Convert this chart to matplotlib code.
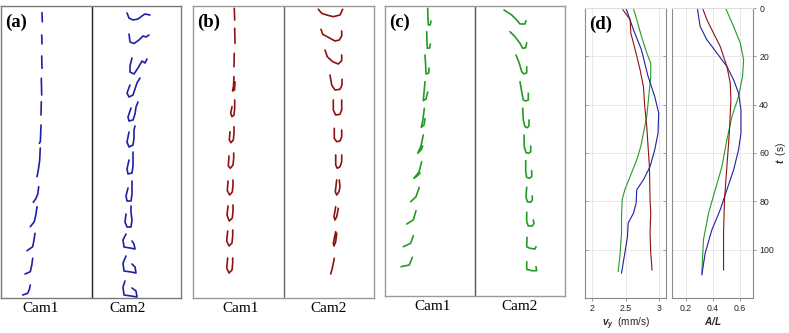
import matplotlib
matplotlib.use("Agg")
import matplotlib.pyplot as plt

# Filament snapshots seen by the two cameras (panel units, y = depth downwards)
# every frame is a list of (x, y) points along the filament

a_cam1 = [
    [(41, 6.7), (41.3, 15.7)],
    [(40.7, 29), (41, 38)],
    [(40.7, 50), (41, 62.3)],
    [(40.3, 72.3), (40.7, 89)],
    [(40.3, 95.7), (40, 109)],
    [(40, 119), (39.6, 130), (39.3, 135.7), (38.3, 137.3)],
    [(39.3, 142), (38.6, 155), (37.3, 164), (36, 170.7)],
    [(37.7, 180.7), (36.8, 188), (35, 192.3), (32.3, 196.3)],
    [(36, 200.7), (35, 208), (33.3, 215.7), (29.3, 220.7)],
    [(34, 227.3), (33, 234), (31.7, 240.7), (26, 244.7)],
    [(31.7, 252.3), (30.8, 259), (29.3, 265.7), (24, 268)],
    [(29.3, 279), (28.5, 283), (26.7, 287.3), (21.7, 289)],
]
a_cam2 = [
    [(126, 7), (128, 12), (132, 14), (137, 13), (141, 10), (144, 8), (149, 9)],
    [(128, 28), (129, 36), (133, 37.5), (138, 34), (142, 30), (145, 31), (148, 29)],
    [(131, 52), (129, 60), (129, 66), (133, 68), (137, 62), (141, 55), (144, 57), (146, 53)],
    [(129, 79), (126, 87), (128, 91), (132, 89), (134, 83), (136, 77), (139, 72)],
    [(130, 102), (127, 111), (128, 115), (132, 114), (134, 108), (135, 101), (137, 96)],
    [(128, 126), (126, 136), (128, 141), (132, 139), (133, 132), (133, 124), (134, 120)],
    [(128, 154), (126, 163), (127, 168), (131, 167), (132, 160), (132, 151), (132, 146)],
    [(127, 182), (125, 190), (126, 195), (130, 195), (131, 188), (131, 180), (131, 175)],
    [(125, 208), (124, 216), (126, 221), (130, 221), (131, 214), (130, 206), (130, 200)],
    [(125, 228), (122, 234), (123, 241), (129, 242), (134, 243), (133, 238), (131, 235)],
    [(125, 250), (122, 257), (123, 265), (130, 266), (135, 267), (134, 261), (131, 258)],
    [(124, 275), (122, 281), (123, 289), (130, 290), (136, 291), (135, 285), (131, 282)],
]

b_cam1 = [
    [(41.3, 2.3), (41.7, 14)],
    [(41.7, 22.3), (42, 37.3)],
    [(41.3, 47.3), (41, 60.7)],
    [(41, 70.7), (40.5, 80), (39.5, 85), (41.5, 84), (42, 76)],
    [(39, 100.7), (37.7, 107.3), (39, 110.7), (41, 109), (41.7, 102), (41.7, 94)],
    [(37, 125.7), (36.3, 134), (38, 136.7), (40.3, 134), (41, 127), (41, 120.7)],
    [(36, 150), (35.3, 160), (37.3, 162.3), (40, 159), (40.7, 152), (40.7, 147)],
    [(35, 175), (34.3, 184.7), (36.7, 189), (39.3, 186), (40, 179), (40, 174)],
    [(35, 200), (34, 209), (36.3, 215), (39.3, 212), (40, 205), (40, 199)],
    [(34.7, 225), (33.7, 235), (36, 240), (39, 237), (39.7, 230), (39.7, 224)],
    [(34.7, 252), (33.7, 262), (36, 267), (39, 264), (39.7, 257), (39.7, 252)],
]
b_cam2 = [
    [(125.3, 3.3), (128.7, 7.3), (133.7, 9), (140.3, 10.7), (147, 9), (149.7, 3.3)],
    [(128, 23.3), (129.7, 28.3), (135.3, 31.3), (142, 35), (146.3, 34), (148.7, 30), (148.7, 25)],
    [(132, 44), (134.3, 50.7), (139.7, 55.7), (145.3, 58), (148.7, 54.7), (148.7, 49)],
    [(137, 69), (138.7, 79), (142, 84), (147, 83.3), (149, 79), (149, 73.3)],
    [(140.3, 94), (140.3, 104), (142.7, 109), (147, 108.3), (148.7, 104), (148.7, 94)],
    [(141.3, 122.3), (141.3, 132.3), (143.7, 135.7), (147, 135), (148.7, 130.7), (148.7, 124)],
    [(142.7, 149), (142.7, 159), (144.3, 162.3), (147, 160.7), (148.7, 155.7), (148.7, 149)],
    [(143.7, 174), (142.3, 185.7), (143.7, 189), (146, 185.7), (147, 180.7), (146.3, 174)],
    [(142.7, 200.7), (141, 210.7), (142, 214), (143.7, 210.7), (145.3, 202.3)],
    [(142.7, 225.7), (140.3, 237.3), (141, 240), (142.7, 235.7), (143.7, 227.3)],
    [(141.3, 252.3), (139.3, 262.3), (137.7, 268)],
]

c_cam1 = [
    [(42.7, 2.3), (43, 12), (43.3, 19), (45.3, 18.7), (46, 15)],
    [(41.7, 25.7), (42, 36), (42.3, 42.3), (44.7, 42), (45.3, 38)],
    [(40, 49), (40.7, 60), (41, 68), (43.7, 67), (44, 62)],
    [(40, 75.7), (39, 87), (38.3, 94.7), (41, 93), (42.7, 86)],
    [(39.3, 102.3), (38, 113), (36.3, 121.3), (39, 119), (40, 112.7)],
    [(38.3, 129), (36, 140), (32.7, 147.3), (36, 144), (37.7, 140)],
    [(36.7, 155.7), (34, 166), (29, 172.3), (33.3, 169), (35, 167)],
    [(34.3, 181.3), (31, 190.7), (25.7, 195.7)],
    [(31, 204.7), (28.3, 214), (21.7, 218)],
    [(28.3, 229.7), (25.7, 237.3), (18.3, 240.7)],
    [(27.3, 251.3), (24.3, 259), (16, 260.7)],
]
c_cam2 = [
    [(119, 4), (126.7, 9), (131.7, 14), (135, 18), (140, 18), (141, 14.7)],
    [(125, 25.7), (130, 30.7), (135, 37.3), (137.7, 42.3), (140.7, 41.7), (141.7, 36.7)],
    [(131, 49), (134.3, 57.3), (136.7, 65.7), (139, 68), (141.7, 66.7), (141.7, 60.7)],
    [(135, 75.7), (136.7, 85.7), (138.3, 94), (140.7, 95), (143.3, 94), (143.3, 87.3)],
    [(137.7, 102.3), (138.3, 114), (140, 120.7), (142.3, 121.7), (144, 120), (144, 114)],
    [(139, 129), (139.3, 140.7), (141, 146.7), (143.7, 147.3), (145.7, 145.7), (145.7, 140)],
    [(140.7, 154.7), (140.7, 165.7), (141.7, 171.3), (144.3, 172.3), (146.7, 170.7), (146.7, 164.7)],
    [(141.7, 181.3), (141, 190.7), (142.3, 195.7), (145.7, 196.3), (147.3, 194), (147.3, 190)],
    [(141.7, 206.3), (141.7, 215.7), (143.3, 220), (147.3, 220), (149, 217.3), (148.3, 214)],
    [(142, 231.3), (141.7, 240.7), (145, 242.3), (150, 243), (151, 240.7)],
    [(141.7, 255.7), (141.7, 263.3), (146.7, 264.7), (151.7, 264.7), (151, 260.7)],
]

# Panel (d): settling velocity and end-to-end ratio vs time
t_vy_blue = [0.3, 9, 17.3, 28.3, 36.6, 43.5, 51.8, 58.7, 65.6, 71.1, 75.2, 80.7, 84.9, 89, 94.6, 101.4, 109.7]
vy_blue = [2.51, 2.62, 2.74, 2.84, 2.94, 3.00, 2.99, 2.94, 2.87, 2.77, 2.67, 2.66, 2.62, 2.54, 2.53, 2.49, 2.44]
t_vy_red = [0.7, 4.8, 10.4, 14.5, 20, 25.6, 32.5, 40.7, 49, 57.3, 65.6, 79.4, 84.9, 93.2, 101.4, 108.4]
vy_red = [2.46, 2.57, 2.58, 2.62, 2.67, 2.72, 2.77, 2.79, 2.82, 2.84, 2.86, 2.87, 2.88, 2.87, 2.88, 2.90]
t_vy_green = [0.4, 4.8, 11.7, 18.6, 22.8, 28.3, 36.6, 44.9, 51.8, 57.3, 62.8, 69.7, 75.2, 79.4, 86.3, 93.2, 101.4, 109]
vy_green = [2.62, 2.67, 2.74, 2.82, 2.88, 2.88, 2.85, 2.82, 2.77, 2.73, 2.67, 2.57, 2.49, 2.45, 2.44, 2.44, 2.42, 2.39]

t_al_blue = [0.3, 7.6, 13.1, 18.6, 24.2, 29.7, 35.2, 42.1, 51.8, 58.7, 67, 75.2, 83.5, 91.8, 101.4, 110.4]
al_blue = [0.285, 0.305, 0.355, 0.43, 0.505, 0.555, 0.592, 0.61, 0.61, 0.592, 0.555, 0.505, 0.455, 0.393, 0.343, 0.318]
t_al_red = [0.3, 4.8, 10.4, 15.9, 24.2, 31, 38, 51.8, 65.6, 79.4, 93.2, 108.4]
al_red = [0.325, 0.355, 0.405, 0.455, 0.505, 0.53, 0.535, 0.523, 0.505, 0.487, 0.48, 0.48]
t_al_green = [0.3, 7.6, 14.5, 21.4, 28.3, 36.6, 44.9, 54.5, 65.6, 75.2, 84.9, 95.9, 109.7]
al_green = [0.497, 0.555, 0.605, 0.63, 0.622, 0.592, 0.543, 0.505, 0.468, 0.418, 0.368, 0.33, 0.318]

blue = "#1f1fa6"
red = "#8e1212"
green = "#249a24"

plt.rcParams["font.serif"] = ["Liberation Serif", "DejaVu Serif"]
plt.rcParams["font.sans-serif"] = ["Liberation Sans", "DejaVu Sans"]
plt.rcParams["mathtext.fontset"] = "custom"
plt.rcParams["mathtext.rm"] = "Liberation Sans"
plt.rcParams["mathtext.it"] = "Liberation Sans:italic"
plt.rcParams["mathtext.bf"] = "Liberation Sans:bold:italic"

W, H = 789, 333
fig = plt.figure(figsize=(W / 100, H / 100), dpi=100)


def px_axes(x0, y0, w, h):
    return fig.add_axes([x0 / W, 1 - (y0 + h) / H, w / W, h / H])


# Snapshot panels (a)-(c)
snap_panels = [
    ("(a)", a_cam1, a_cam2, blue, (1, 6, 180, 292), 90.7, (40, 127), "#7a7a7a", "#222222"),
    ("(b)", b_cam1, b_cam2, red, (193, 6, 181, 292), 91, (47.7, 135.7), "#9a9a9a", "#666666"),
    ("(c)", c_cam1, c_cam2, green, (385, 6, 180, 290), 90, (47.8, 135), "#9a9a9a", "#555555"),
]
for label, cam1, cam2, col, box, divider, cam_pos, spine_col, div_col in snap_panels:
    ax = px_axes(*box)
    for frame in cam1 + cam2:
        xs = [p[0] for p in frame]
        ys = [p[1] for p in frame]
        ax.plot(xs, ys, color=col, linewidth=1.2, solid_capstyle="round")
    ax.set_xlim(0, box[2])
    ax.set_ylim(box[3], 0)
    ax.axvline(divider, color=div_col, linewidth=1.0)
    ax.set_yticks([])
    ax.set_xticks(cam_pos)
    ax.set_xticklabels(["Cam1", "Cam2"])
    for lab in ax.get_xticklabels():
        lab.set_fontfamily("serif")
        lab.set_fontsize(11)
    ax.tick_params(axis="x", length=0, pad=3)
    for s in ax.spines.values():
        s.set_color(spine_col)
        s.set_linewidth(1.0)
    ax.text(0.025, 0.975, label, transform=ax.transAxes, ha="left", va="top",
            fontfamily="serif", fontweight="bold", fontsize=13.5)

# Panel (d)
ax_v = px_axes(585, 8, 81, 290)
ax_a = px_axes(672, 8, 81, 290)

ax_v.plot(vy_green, t_vy_green, color=green, linewidth=0.8)
ax_v.plot(vy_blue, t_vy_blue, color=blue, linewidth=0.8)
ax_v.plot(vy_red, t_vy_red, color=red, linewidth=0.8)
ax_a.plot(al_green, t_al_green, color=green, linewidth=0.8)
ax_a.plot(al_blue, t_al_blue, color=blue, linewidth=0.8)
ax_a.plot(al_red, t_al_red, color=red, linewidth=0.8)

ax_v.set_xlim(1.89, 3.11)
ax_v.set_xticks([2, 2.5, 3])
ax_v.set_xticklabels(["2", "2.5", "3"])
ax_a.set_xlim(0.095, 0.7)
ax_a.set_xticks([0.2, 0.4, 0.6])

for ax in (ax_v, ax_a):
    ax.set_ylim(120, 0)
    ax.set_yticks([0, 20, 40, 60, 80, 100])
    ax.grid(True, color="#e8e8e8", linewidth=0.7)
    ax.set_axisbelow(True)
    for s in ax.spines.values():
        s.set_color("#8a8a8a")
        s.set_linewidth(0.8)
    ax.spines["top"].set_color("#dddddd")
    ax.tick_params(axis="x", direction="out", length=2, width=0.6, color="#8a8a8a",
                   labelsize=6.3, labelcolor="#262626", pad=2)

ax_v.tick_params(axis="y", left=True, right=True, direction="in", length=2, width=0.6,
                 color="#8a8a8a", labelleft=False)
ax_a.tick_params(axis="y", left=False, right=True, labelright=True, labelleft=False,
                 direction="out", length=2.5, width=0.6, color="#8a8a8a",
                 labelsize=6.3, labelcolor="#262626", pad=2)

ax_v.set_xlabel(r"$\mathbf{v}_{\mathbf{y}}$  (mm/s)", fontsize=7.2, color="#262626", labelpad=2)
ax_a.set_xlabel(r"$\mathbf{A/L}$", fontsize=7.2, color="#262626", labelpad=2)
ax_a.yaxis.set_label_position("right")
ax_a.set_ylabel(r"$\mathbf{t}$  (s)", fontsize=7.2, color="#262626")
ax_a.yaxis.set_label_coords(1 + 21 / 81, 0.5)

ax_v.text(0.05, 0.975, "(d)", transform=ax_v.transAxes, ha="left", va="top",
          fontfamily="serif", fontweight="bold", fontsize=13.5)

fig.savefig("out.png", dpi=100)
